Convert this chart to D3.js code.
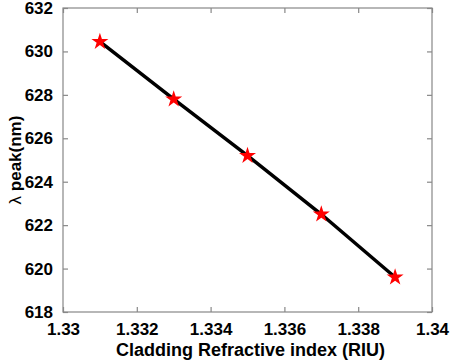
<!DOCTYPE html>
<html>
<head>
<meta charset="utf-8">
<script src="https://cdn.jsdelivr.net/npm/d3@7"></script>
<style>
  body { margin: 0; background: #fff; }
  text { font-family: "Liberation Sans", Arial, sans-serif; }
</style>
</head>
<body>
<div id="chart"></div>
<script>
// data
const riu = [1.331, 1.333, 1.335, 1.337, 1.339];
const peak = [630.45, 627.8, 625.2, 622.5, 619.6];
const xTicks = [1.33, 1.332, 1.334, 1.336, 1.338, 1.34];
const yTicks = [618, 620, 622, 624, 626, 628, 630, 632];

const margin = {top: 8, right: 18, bottom: 52, left: 63},
    width = 450 - margin.left - margin.right,
    height = 364 - margin.top - margin.bottom;

const svg = d3.select("#chart")
  .append("svg")
    .attr("width", 450)
    .attr("height", 364)
  .append("g")
    .attr("transform", `translate(${margin.left}, ${margin.top})`);

const x = d3.scaleLinear().domain([1.33, 1.34]).range([0, width]);
const y = d3.scaleLinear().domain([618, 632]).range([height, 0]);

const axisColor = "#888";

// box
svg.append("rect")
  .attr("width", width).attr("height", height)
  .attr("fill", "none").attr("stroke", axisColor).attr("stroke-width", 1.2);

// bottom axis, inward ticks
svg.append("g")
  .attr("transform", `translate(0, ${height})`)
  .call(d3.axisBottom(x).tickValues(xTicks).tickSize(-5).tickPadding(11)
    .tickFormat(d => d3.format("")(+d.toFixed(3))));
// top ticks
svg.append("g")
  .call(d3.axisTop(x).tickValues(xTicks).tickSize(-5).tickFormat(""));

svg.append("g")
  .call(d3.axisLeft(y).tickValues(yTicks).tickSize(-5).tickPadding(10));
svg.append("g")
  .attr("transform", `translate(${width}, 0)`)
  .call(d3.axisRight(y).tickValues(yTicks).tickSize(-5).tickFormat(""));

svg.selectAll(".domain").remove();
svg.selectAll(".tick line").attr("stroke", axisColor).attr("stroke-width", 1.2);
svg.selectAll(".tick text")
  .style("font-size", "17px").style("font-weight", "bold").attr("fill", "#000");

// line
const pts = riu.map((d, i) => [d, peak[i]]);
svg.append("path")
  .datum(pts)
  .attr("fill", "none")
  .attr("stroke", "#000")
  .attr("stroke-width", 3.5)
  .attr("d", d3.line().x(d => x(d[0])).y(d => y(d[1])));

// star markers
svg.append("g")
  .selectAll("path")
  .data(pts)
  .join("path")
    .attr("transform", d => `translate(${x(d[0])}, ${y(d[1])})`)
    .attr("d", d3.symbol(d3.symbolStar, 90))
    .attr("fill", "#ff0000");

// axis labels
svg.append("text")
  .attr("text-anchor", "middle")
  .attr("x", width / 2 + 3)
  .attr("y", height + 44)
  .style("font-size", "18px").style("font-weight", "bold")
  .text("Cladding Refractive index (RIU)");

const ylab = svg.append("text")
  .attr("text-anchor", "middle")
  .attr("transform", `translate(${-42}, ${height / 2}) rotate(-90)`)
  .style("font-size", "17px");
ylab.append("tspan").style("font-weight", "normal").text("λ ");
ylab.append("tspan").style("font-weight", "bold").text("peak(nm)");
</script>
</body>
</html>
